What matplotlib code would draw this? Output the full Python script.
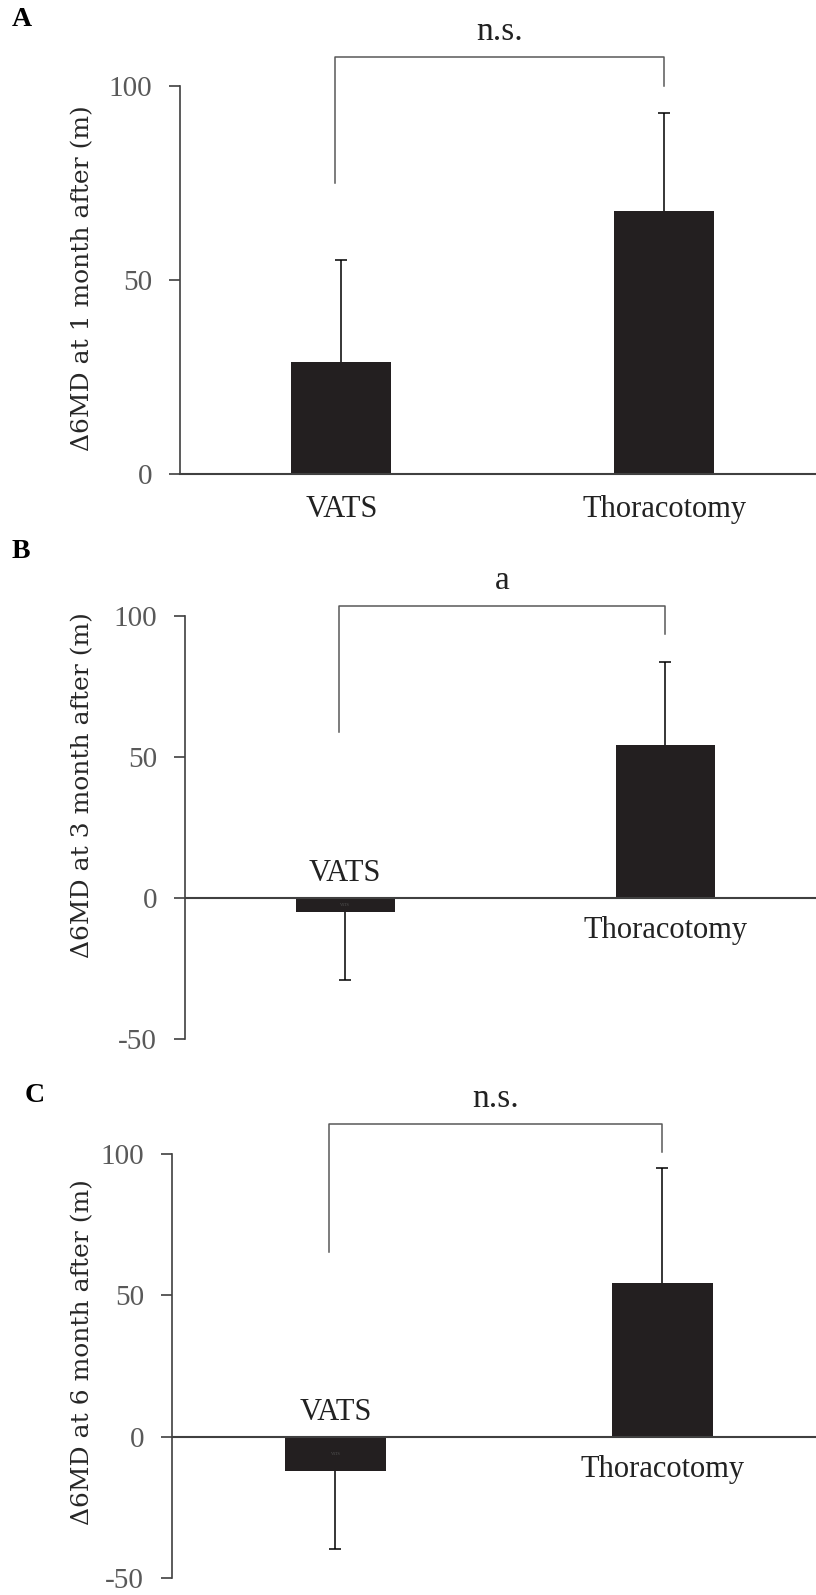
import matplotlib.pyplot as plt

plt.rcParams["axes.unicode_minus"] = False

# data
groups = ["VATS", "Thoracotomy"]
letters = ["A", "B", "C"]
ylabels = ["Δ6MD at 1 month after (m)",
           "Δ6MD at 3 month after (m)",
           "Δ6MD at 6 month after (m)"]
means = [[28.9, 67.8], [-5.0, 54.3], [-12.1, 54.5]]
errs = [[26.3, 25.2], [24.0, 29.4], [27.5, 40.5]]
ylims = [(0, 100), (-50, 100), (-50, 100)]
yticks = [[0, 50, 100], [-50, 0, 50, 100], [-50, 0, 50, 100]]
sig = ["n.s.", "a", "n.s."]
bracket_top = [107.6, 103.7, 110.6]
bracket_left = [75.0, 59.0, 65.3]
bracket_right = [100.0, 93.6, 100.8]

bar_color = "#231f20"
grey = "#595959"
serif = "Liberation Serif"

fig = plt.figure(figsize=(8.16, 15.95), dpi=100)
W, H = 816, 1595

# axes boxes in pixels: left, top, bottom
boxes = [(180, 86, 474), (185, 616, 1039), (172, 1154, 1578)]
letter_pos = [(22, 20), (21, 552), (35, 1095)]
ylabel_y = [278, 785, 1352]

for i in range(3):
    left, top, bottom = boxes[i]
    ax = fig.add_axes([left / W, 1 - bottom / H, 1 - left / W, (bottom - top) / H])
    x = [0, 1]
    m = means[i]
    # error bars point away from zero, one-sided, cap at the far end only
    ends = [v - e if v < 0 else v + e for v, e in zip(m, errs[i])]
    ax.vlines(x, m, ends, color="black", lw=1.1, zorder=1)
    ax.plot(x, ends, ls="none", marker="_", ms=9, mew=1.1, color="black", zorder=1)
    ax.bar(x, m, width=0.31, color=bar_color, zorder=2)

    ax.set_xlim(-0.5, 1.47)
    ax.set_ylim(*ylims[i])
    ax.set_yticks(yticks[i])
    ax.tick_params(axis="y", direction="out", length=8, width=1.2, color="#404040",
                   labelsize=21, labelcolor=grey, pad=12)
    for t in ax.get_yticklabels():
        t.set_family(serif)
    for s in ["top", "right"]:
        ax.spines[s].set_visible(False)
    ax.spines["left"].set_color("#404040")
    ax.spines["left"].set_linewidth(1.2)

    if i == 0:
        ax.spines["bottom"].set_color("#404040")
        ax.spines["bottom"].set_linewidth(1.5)
        ax.set_xticks(x)
        ax.set_xticklabels(groups, family=serif, fontsize=22, color="#222222")
        ax.tick_params(axis="x", length=0, pad=15)
    else:
        ax.spines["bottom"].set_visible(False)
        ax.set_xticks([])
        ax.axhline(0, color="#404040", lw=1.5, zorder=3)
        ax.text(0, 3.5, groups[0], ha="center", va="bottom", family=serif,
                fontsize=22, color="#222222")
        ax.text(1, -6.5, groups[1], ha="center", va="top", family=serif,
                fontsize=22, color="#222222")
        # tiny leftover label inside the VATS bar
        ax.text(0, m[0] / 2, groups[0], ha="center", va="center", family=serif,
                fontsize=3, color="#555555", zorder=4)

    # significance bracket
    ax.plot([-0.02, -0.02, 1.0, 1.0],
            [bracket_left[i], bracket_top[i], bracket_top[i], bracket_right[i]],
            color=grey, lw=1.1, clip_on=False)
    ax.annotate(sig[i], (0.49, bracket_top[i]), xytext=(0, 7), textcoords="offset points",
                ha="center", va="bottom", family=serif, fontsize=24, color="#222222",
                annotation_clip=False)

    fig.text(83 / W, 1 - ylabel_y[i] / H, ylabels[i], rotation=90, ha="center",
             va="center", family="DejaVu Serif", fontsize=18, color="#262626")
    lx, ly = letter_pos[i]
    fig.text(lx / W, 1 - ly / H, letters[i], ha="center", va="center", family=serif,
             fontsize=20, fontweight="bold", color="black")

fig.savefig("out.png", dpi=100)
